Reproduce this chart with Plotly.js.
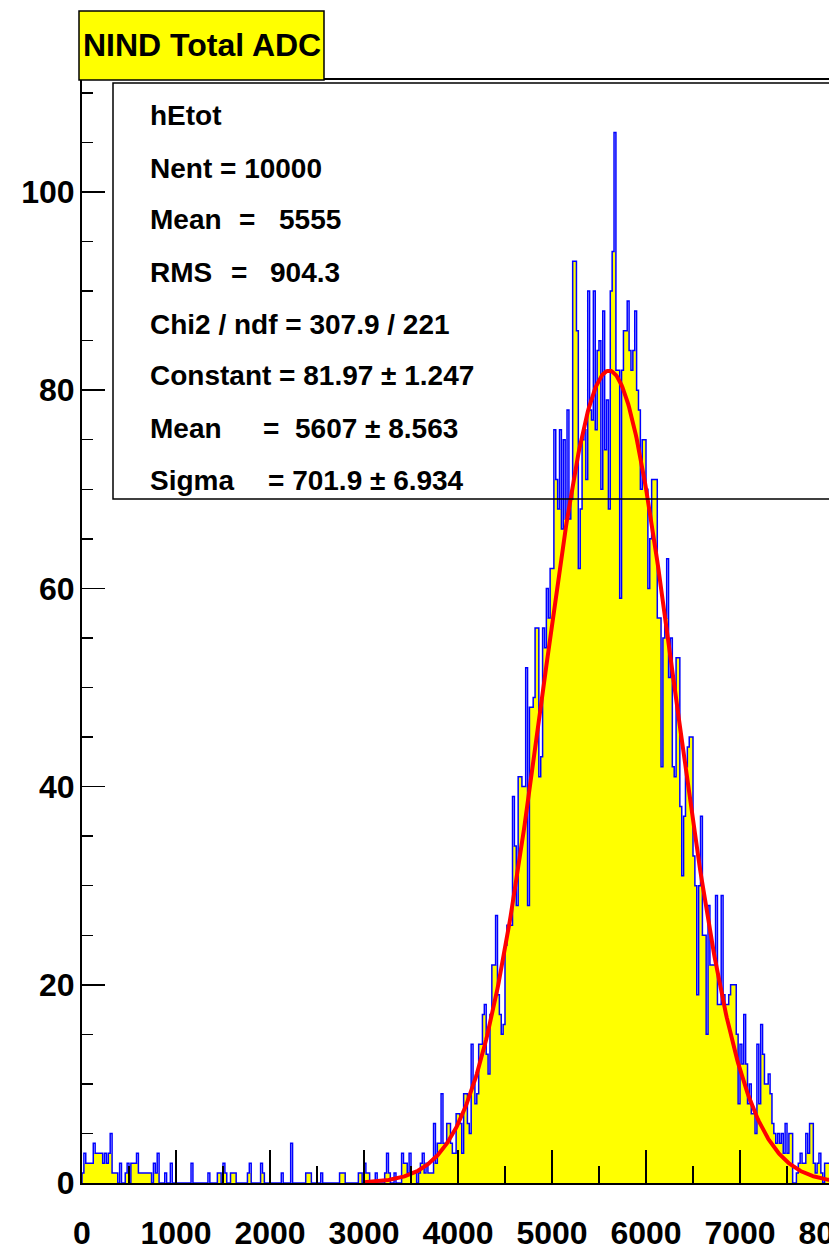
<!DOCTYPE html>
<html>
<head>
<meta charset="utf-8">
<script src="https://cdn.plot.ly/plotly-3.0.1.min.js"></script>
<style>
html,body{margin:0;padding:0;overflow:hidden;background:#ffffff;width:829px;height:1251px;}
#chart{width:900px;height:1251px;}
</style>
</head>
<body>
<div id="chart"></div>
<script>
// ---------------- DATA ----------------
const binWidth = 20; // ADC units per bin
// bins 0..149  (0 - 3000)
const countsLow = [
1,3,2,2,2,2,4,3,3,3, 3,2,3,2,3,5,1,1,1,0,
2,0,0,1,2,0,2,2,2,3, 1,1,1,1,1,1,1,0,2,1,
3,0,0,0,1,0,0,2,0,0, 0,0,0,0,0,0,0,0,2,0,
0,0,0,0,0,0,0,1,0,0, 0,0,1,1,0,2,1,0,0,1,
1,1,0,0,0,0,0,0,1,2, 0,0,0,0,0,2,1,0,0,0,
0,0,0,0,0,0,1,0,0,0, 0,4,0,0,0,0,0,0,0,1,
1,1,0,0,0,0,0,1,0,0, 0,0,0,0,0,0,0,1,1,1,
0,0,0,0,0,0,0,1,1,0
];
// bins 150..249  (3000 - 5000)
const countsRise = [
2,1,1,0,0,0,1,0,0,0, 0,1,3,1,0,0,1,0,0,0,
3,2,2,1,3,1,1,1,0,1, 2,3,1,2,1,1,1,6,2,4,
4,9,4,4,6,6,4,3,3,7, 7,6,3,9,9,6,5,14,10,8,
9,14,14,17,18,13,11,17,22,22, 27,19,17,15,16,24,26,26,26,39,
34,28,41,41,40,40,52,28,48,48, 49,56,56,41,43,56,54,60,57,62
];
// bins 250..319  (5000 - 6400)
const countsPeak = [
62,76,71,68,76,66,75,67,78,67, 69,93,93,86,62,68,75,76,71,90,
78,77,90,76,84,85,70,88,74,79, 68,90,94,106,82,82,59,82,86,86,
89,84,82,84,88,80,78,70,75,75, 70,60,65,71,71,71,57,57,42,55,
57,63,51,55,42,41,53,53,38,31
];
// bins 320..399  (6400 - 8000)
const countsTail = [
37,42,44,45,45,33,30,19,30,37, 25,25,15,28,22,22,22,29,18,18,
29,19,18,18,19,20,20,20,15,8, 14,12,17,12,8,10,7,7,5,14,
8,16,13,10,10,11,9,6,5,4, 5,4,5,3,6,3,5,5,0,0,
1,2,3,2,2,5,3,6,6,2, 1,2,3,1,0,2,2,2,1,1
];
// Gaussian fit parameters (from the stats box)
const fitConstant = 81.97;
const fitMean = 5607;
const fitSigma = 701.9;
const fitRange = [3000, 8000];

const xTickVals = [0,1000,2000,3000,4000,5000,6000,7000,8000];
const xTickText = ["0","1000","2000","3000","4000","5000","6000","7000","8000"];
const yTickVals = [0,20,40,60,80,100];
const yTickText = ["0","20","40","60","80","100"];

const titleText = "NIND Total ADC";
const statsLabels = ["hEtot","Nent = 10000","Mean","RMS","Chi2 / ndf = 307.9 / 221","Constant = 81.97 \u00b1 1.247","Mean","Sigma"];
const statsValues = ["","","=","=","","","=","= 701.9 \u00b1 6.934"];
const statsValues2 = ["","","5555","904.3","","","5607 \u00b1 8.563",""];

// ---------------- GEOMETRY ----------------
const W = 900, H = 1251;
const L = 82, R = 834, T = 80, B = 1183;
const px = x => (x - L) / (R - L);
const py = y => (B - y) / (B - T);
const FONT = "Liberation Sans, Arial, Helvetica, sans-serif";

// ---------------- TRACES ----------------
const counts = countsLow.concat(countsRise, countsPeak, countsTail);
const nb = counts.length;
const edges = counts.map((_, i) => i * binWidth);
const xs = [0].concat(edges, [nb * binWidth]);
const yOutline = [0].concat(counts, [counts[nb - 1]]);
const fillLevel = counts.map((v, i) => {
  const l = i > 0 ? counts[i - 1] : 0;
  const r = i < nb - 1 ? counts[i + 1] : 0;
  return Math.min(v, Math.max(l, r));
});
const yFill = [0].concat(fillLevel, [fillLevel[nb - 1]]);

const fx = [], fy = [];
for (let x = fitRange[0]; x <= fitRange[1]; x += 10) {
  fx.push(x);
  fy.push(fitConstant * Math.exp(-0.5 * Math.pow((x - fitMean) / fitSigma, 2)));
}

const traces = [
  {type:'scatter', mode:'lines', x:xs, y:yFill, line:{shape:'hv', width:0, color:'#ffff00'},
   fill:'tozeroy', fillcolor:'#ffff00', hoverinfo:'skip'},
  {type:'scatter', mode:'lines', x:xs, y:yOutline, line:{shape:'hv', width:1.5, color:'#0000ff'}, hoverinfo:'skip'},
  {type:'scatter', mode:'lines', x:fx, y:fy, line:{width:4, color:'#ff0000'}, hoverinfo:'skip'}
];

// ---------------- LAYOUT ----------------
const annotations = [
  {xref:'paper', yref:'paper', x:px(202), y:py(45), xanchor:'center', yanchor:'middle', showarrow:false,
   text:titleText, font:{family:FONT, size:32, color:'#000', weight:'bold'}}
];
const lineY = [116,168,220,272,324,376,428,480];
const valX = [0,0,237,229,0,0,261,266];
const val2X = [0,0,277,268,0,0,293,0];
statsLabels.forEach((s, i) => {
  annotations.push({xref:'paper', yref:'paper', x:px(148), y:py(lineY[i]), xanchor:'left', yanchor:'middle',
    showarrow:false, text:s, font:{family:FONT, size:28, color:'#000', weight:'bold'}});
  if (statsValues[i]) annotations.push({xref:'paper', yref:'paper', x:px(valX[i]), y:py(lineY[i]), xanchor:'left', yanchor:'middle',
    showarrow:false, text:statsValues[i], font:{family:FONT, size:28, color:'#000', weight:'bold'}});
  if (statsValues2[i]) annotations.push({xref:'paper', yref:'paper', x:px(val2X[i]), y:py(lineY[i]), xanchor:'left', yanchor:'middle',
    showarrow:false, text:statsValues2[i], font:{family:FONT, size:28, color:'#000', weight:'bold'}});
});

const layout = {
  width: W, height: H,
  margin: {l: L, r: W - R, t: T, b: H - B, pad: 0, autoexpand:false},
  paper_bgcolor: '#ffffff', plot_bgcolor: '#ffffff',
  showlegend: false,
  xaxis: {
    range: [0, 8000], tickmode:'array', tickvals: xTickVals, ticktext: xTickText,
    ticks: 'inside', ticklen: 33, tickwidth: 1.5, tickcolor: '#000',
    minor: {tickmode:'linear', tick0: 0, dtick: 500, ticks: 'inside', ticklen: 17, tickwidth: 1.5, tickcolor: '#000'},
    showline: true, linecolor: '#000', linewidth: 2, mirror: true,
    showgrid: false, zeroline: false, ticklabelstandoff: 21,
    tickfont: {family: FONT, size: 32, color: '#000', weight: 'bold'}, fixedrange:true
  },
  yaxis: {
    range: [0, 111.3], tickmode:'array', tickvals: yTickVals, ticktext: yTickText,
    ticks: 'inside', ticklen: 23, tickwidth: 1.5, tickcolor: '#000',
    minor: {tickmode:'linear', tick0: 0, dtick: 5, ticks: 'inside', ticklen: 11, tickwidth: 1.5, tickcolor: '#000'},
    showline: true, linecolor: '#000', linewidth: 2, mirror: true,
    showgrid: false, zeroline: false, ticklabelstandoff: -1,
    tickfont: {family: FONT, size: 32, color: '#000', weight: 'bold'}, fixedrange:true
  },
  shapes: [
    {type:'rect', xref:'paper', yref:'paper', x0:px(79), x1:px(324), y0:py(80), y1:py(11),
     fillcolor:'#ffff00', line:{color:'#000', width:1.5}, layer:'above'},
    {type:'rect', xref:'paper', yref:'paper', x0:px(113), x1:px(895), y0:py(499), y1:py(83),
     fillcolor:'rgba(0,0,0,0)', line:{color:'#000', width:1.5}, layer:'above'}
  ],
  annotations: annotations
};

Plotly.newPlot('chart', traces, layout, {displayModeBar:false, staticPlot:true});
</script>
</body>
</html>
